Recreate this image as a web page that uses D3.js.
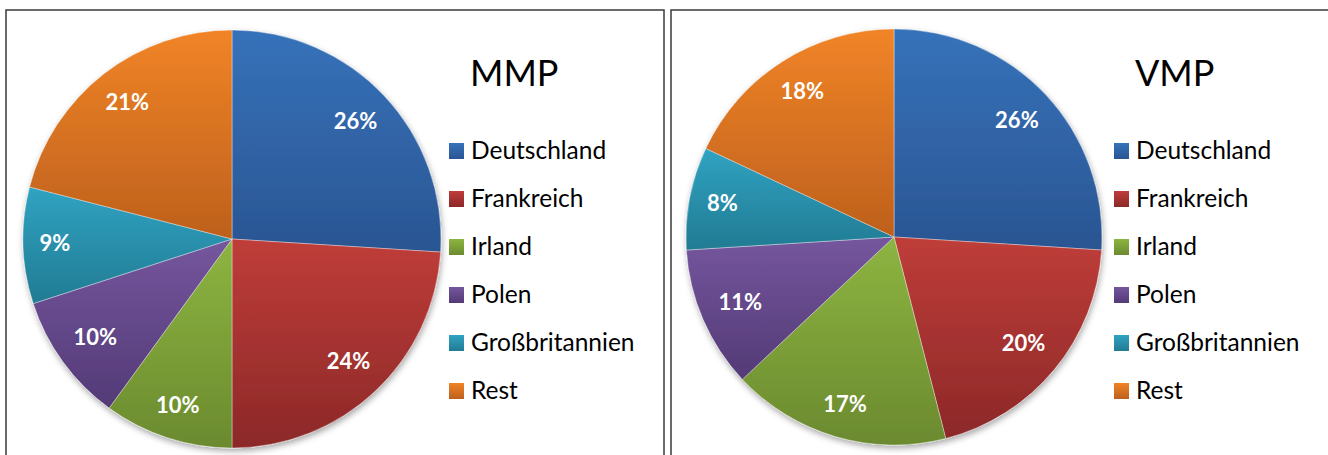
<!DOCTYPE html>
<html>
<head>
<meta charset="utf-8">
<script src="https://cdn.jsdelivr.net/npm/d3@7"></script>
<style>
  body { margin: 0; background: #fff; }
  svg { display: block; }
</style>
</head>
<body>
<script>
// canvas
var w = 1328;
var h = 455;

// data
var categories = ["Deutschland", "Frankreich", "Irland", "Polen", "Großbritannien", "Rest"];
var mmpValues = [26, 24, 10, 10, 9, 21];
var vmpValues = [26, 20, 17, 11, 8, 18];
var chartTitles = ["MMP", "VMP"];

// colours: light top / dark bottom of each slice gradient
var topColors = ["#3672ba", "#bf3d39", "#8db541", "#75569e", "#30a3c2", "#f18427"];
var bottomColors = ["#2a5592", "#8c2828", "#6b8a2f", "#533a76", "#227b93", "#bd601d"];

var svg = d3.select("body")
  .append("svg")
  .attr("width", w)
  .attr("height", h);

var defs = svg.append("defs");

categories.forEach(function(c, i) {
  var g = defs.append("linearGradient")
    .attr("id", "grad" + i)
    .attr("x1", 0).attr("y1", 0)
    .attr("x2", 0).attr("y2", 1);
  g.append("stop").attr("offset", "0%").attr("stop-color", topColors[i]);
  g.append("stop").attr("offset", "100%").attr("stop-color", bottomColors[i]);
});

// soft shadow under the pies
var f = defs.append("filter")
  .attr("id", "shadow")
  .attr("x", "-10%").attr("y", "-10%")
  .attr("width", "120%").attr("height", "120%");
f.append("feDropShadow")
  .attr("dx", 1).attr("dy", 3)
  .attr("stdDeviation", 3)
  .attr("flood-color", "#000")
  .attr("flood-opacity", 0.35);

// panel frames (bottom and right run off the picture)
svg.append("rect")
  .attr("x", 6).attr("y", 10)
  .attr("width", 658).attr("height", 460)
  .attr("fill", "none")
  .attr("stroke", "#3a3a3a")
  .attr("stroke-width", 1.5);
svg.append("rect")
  .attr("x", 671).attr("y", 10)
  .attr("width", 670).attr("height", 460)
  .attr("fill", "none")
  .attr("stroke", "#3a3a3a")
  .attr("stroke-width", 1.5);

var panels = [
  { values: mmpValues, title: chartTitles[0], cx: 232, cy: 239, r: 209, titleX: 470, legendX: 449 },
  { values: vmpValues, title: chartTitles[1], cx: 894, cy: 237, r: 208, titleX: 1135, legendX: 1114 }
];

var pie = d3.pie().sort(null).value(function(d) { return d; });

panels.forEach(function(p) {
  var g = svg.append("g")
    .attr("transform", "translate(" + p.cx + "," + p.cy + ")");

  var arc = d3.arc().innerRadius(0).outerRadius(p.r);
  var arcs = pie(p.values);

  var slices = g.append("g").attr("filter", "url(#shadow)");
  slices.selectAll("path")
    .data(arcs)
    .enter()
    .append("path")
    .attr("d", arc)
    .attr("fill", function(d, i) { return "url(#grad" + i + ")"; })
    .attr("stroke", "rgba(255,255,255,0.45)")
    .attr("stroke-width", 0.8);

  // labels: pushed toward the rim, like Excel's best fit
  g.selectAll("text.lbl")
    .data(arcs)
    .enter()
    .append("text")
    .attr("class", "lbl")
    .text(function(d) { return d.value + "%"; })
    .attr("text-anchor", "middle")
    .attr("dominant-baseline", "central")
    .attr("font-family", "Lato, 'Open Sans', sans-serif")
    .attr("font-weight", "bold")
    .attr("font-size", "22px")
    .attr("fill", "white")
    .each(function(d) {
      var a = (d.startAngle + d.endAngle) / 2;
      var bw = this.getComputedTextLength();
      var half = Math.abs(Math.sin(a)) * bw / 2 + Math.abs(Math.cos(a)) * 11;
      var rr = p.r - 16 - half;
      d3.select(this)
        .attr("x", Math.sin(a) * rr)
        .attr("y", -Math.cos(a) * rr - 2);
    });

  // title
  svg.append("text")
    .attr("x", p.titleX)
    .attr("y", 86)
    .text(p.title)
    .attr("font-family", "Lato, 'Open Sans', sans-serif")
    .attr("font-size", "36px")
    .attr("fill", "#000");

  // legend
  var leg = svg.append("g");
  var rows = leg.selectAll("g")
    .data(categories)
    .enter()
    .append("g")
    .attr("transform", function(d, i) {
      return "translate(" + p.legendX + "," + (151 + i * 48) + ")";
    });
  rows.append("rect")
    .attr("x", 0).attr("y", -8)
    .attr("width", 15).attr("height", 16)
    .attr("fill", function(d, i) { return "url(#grad" + i + ")"; });
  rows.append("text")
    .attr("x", 22)
    .attr("y", 8)
    .text(function(d) { return d; })
    .attr("font-family", "Lato, 'Open Sans', sans-serif")
    .attr("font-size", "24.5px")
    .attr("fill", "#000");
});
</script>
</body>
</html>
